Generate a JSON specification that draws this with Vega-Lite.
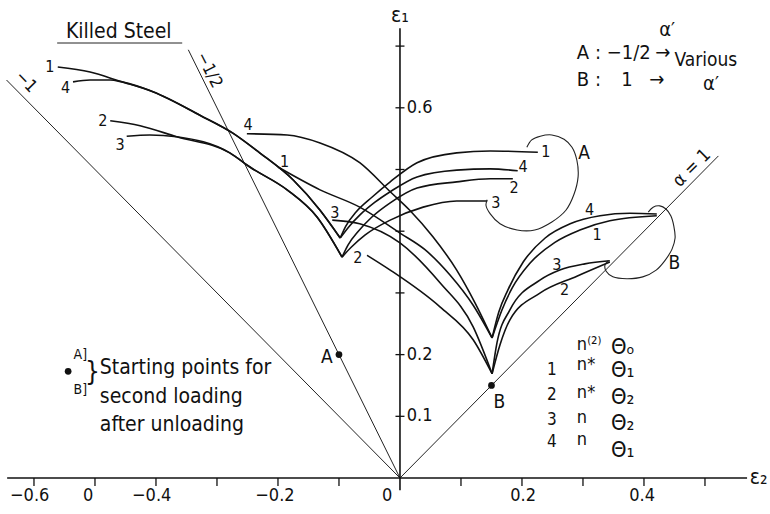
{
"$schema": "https://vega.github.io/schema/vega-lite/v6.json",
"width": 770, "height": 514,
"autosize": {"type": "fit", "contains": "padding"},
"padding": 0,
"background": "white",
"config": {"view": {"stroke": null}, "text": {"font": "DejaVu Sans Condensed, Liberation Sans Narrow, DejaVu Sans", "color": "#111", "baseline": "middle"}},
"datasets": {
"axes": [
{"id":"x","i":0,"x":-0.644,"y":0},{"id":"x","i":1,"x":0.569,"y":0},
{"id":"y","i":0,"x":0,"y":-0.02},{"id":"y","i":1,"x":0,"y":0.729}
],
"refl": [
{"id":"m1","i":0,"x":0,"y":0},{"id":"m1","i":1,"x":-0.645,"y":0.645},
{"id":"mh","i":0,"x":0,"y":0},{"id":"mh","i":1,"x":-0.347,"y":0.694},
{"id":"p1","i":0,"x":0,"y":0},{"id":"p1","i":1,"x":0.522,"y":0.522},
{"id":"ul","i":0,"x":-0.562,"y":0.705},{"id":"ul","i":1,"x":-0.357,"y":0.705}
],
"xticks": [{"x":-0.6,"y":0},{"x":-0.5,"y":0},{"x":-0.4,"y":0},{"x":-0.3,"y":0},{"x":-0.2,"y":0},{"x":-0.1,"y":0},{"x":0.1,"y":0},{"x":0.2,"y":0},{"x":0.3,"y":0},{"x":0.4,"y":0},{"x":0.5,"y":0}],
"yticks": [{"x":0,"y":0.1},{"x":0,"y":0.2},{"x":0,"y":0.3},{"x":0,"y":0.4},{"x":0,"y":0.5},{"x":0,"y":0.6},{"x":0,"y":0.7}],
"curves": [
{"id":"A1L","i":0,"x":-0.561,"y":0.666},{"id":"A1L","i":1,"x":-0.508,"y":0.658},{"id":"A1L","i":2,"x":-0.459,"y":0.643},{"id":"A1L","i":3,"x":-0.405,"y":0.626},{"id":"A1L","i":4,"x":-0.328,"y":0.588},{"id":"A1L","i":5,"x":-0.274,"y":0.559},{"id":"A1L","i":6,"x":-0.230,"y":0.527},{"id":"A1L","i":7,"x":-0.175,"y":0.483},{"id":"A1L","i":8,"x":-0.131,"y":0.434},{"id":"A1L","i":9,"x":-0.098,"y":0.389},
{"id":"A4L","i":0,"x":-0.536,"y":0.642},{"id":"A4L","i":1,"x":-0.508,"y":0.645},{"id":"A4L","i":2,"x":-0.475,"y":0.645},{"id":"A4L","i":3,"x":-0.456,"y":0.642},{"id":"A4L","i":4,"x":-0.405,"y":0.626},{"id":"A4L","i":5,"x":-0.328,"y":0.588},{"id":"A4L","i":6,"x":-0.274,"y":0.559},{"id":"A4L","i":7,"x":-0.230,"y":0.527},{"id":"A4L","i":8,"x":-0.175,"y":0.483},{"id":"A4L","i":9,"x":-0.131,"y":0.434},{"id":"A4L","i":10,"x":-0.098,"y":0.389},
{"id":"A2L","i":0,"x":-0.475,"y":0.579},{"id":"A2L","i":1,"x":-0.426,"y":0.571},{"id":"A2L","i":2,"x":-0.366,"y":0.553},{"id":"A2L","i":3,"x":-0.279,"y":0.527},{"id":"A2L","i":4,"x":-0.246,"y":0.504},{"id":"A2L","i":5,"x":-0.185,"y":0.467},{"id":"A2L","i":6,"x":-0.136,"y":0.423},{"id":"A2L","i":7,"x":-0.095,"y":0.358},
{"id":"A3L","i":0,"x":-0.448,"y":0.554},{"id":"A3L","i":1,"x":-0.410,"y":0.556},{"id":"A3L","i":2,"x":-0.366,"y":0.553},{"id":"A3L","i":3,"x":-0.279,"y":0.527},{"id":"A3L","i":4,"x":-0.246,"y":0.504},{"id":"A3L","i":5,"x":-0.185,"y":0.467},{"id":"A3L","i":6,"x":-0.136,"y":0.423},{"id":"A3L","i":7,"x":-0.095,"y":0.358},
{"id":"A1R","i":0,"x":-0.098,"y":0.389},{"id":"A1R","i":1,"x":-0.089,"y":0.408},{"id":"A1R","i":2,"x":-0.072,"y":0.431},{"id":"A1R","i":3,"x":-0.046,"y":0.455},{"id":"A1R","i":4,"x":-0.016,"y":0.480},{"id":"A1R","i":5,"x":0.028,"y":0.511},{"id":"A1R","i":6,"x":0.093,"y":0.527},{"id":"A1R","i":7,"x":0.148,"y":0.530},{"id":"A1R","i":8,"x":0.226,"y":0.528},
{"id":"A4R","i":0,"x":-0.098,"y":0.389},{"id":"A4R","i":1,"x":-0.084,"y":0.407},{"id":"A4R","i":2,"x":-0.066,"y":0.426},{"id":"A4R","i":3,"x":-0.041,"y":0.447},{"id":"A4R","i":4,"x":-0.016,"y":0.464},{"id":"A4R","i":5,"x":0.028,"y":0.488},{"id":"A4R","i":6,"x":0.093,"y":0.499},{"id":"A4R","i":7,"x":0.148,"y":0.501},{"id":"A4R","i":8,"x":0.193,"y":0.498},
{"id":"A2R","i":0,"x":-0.095,"y":0.358},{"id":"A2R","i":1,"x":-0.085,"y":0.378},{"id":"A2R","i":2,"x":-0.069,"y":0.399},{"id":"A2R","i":3,"x":-0.046,"y":0.423},{"id":"A2R","i":4,"x":-0.016,"y":0.446},{"id":"A2R","i":5,"x":0.028,"y":0.470},{"id":"A2R","i":6,"x":0.093,"y":0.480},{"id":"A2R","i":7,"x":0.148,"y":0.485},{"id":"A2R","i":8,"x":0.185,"y":0.485},
{"id":"A3R","i":0,"x":-0.095,"y":0.358},{"id":"A3R","i":1,"x":-0.080,"y":0.374},{"id":"A3R","i":2,"x":-0.057,"y":0.394},{"id":"A3R","i":3,"x":-0.016,"y":0.418},{"id":"A3R","i":4,"x":0.038,"y":0.439},{"id":"A3R","i":5,"x":0.093,"y":0.449},{"id":"A3R","i":6,"x":0.143,"y":0.449},
{"id":"B4L","i":0,"x":-0.251,"y":0.558},{"id":"B4L","i":1,"x":-0.185,"y":0.556},{"id":"B4L","i":2,"x":-0.131,"y":0.543},{"id":"B4L","i":3,"x":-0.066,"y":0.511},{"id":"B4L","i":4,"x":-0.016,"y":0.464},{"id":"B4L","i":5,"x":0.016,"y":0.434},{"id":"B4L","i":6,"x":0.054,"y":0.391},{"id":"B4L","i":7,"x":0.093,"y":0.337},{"id":"B4L","i":8,"x":0.123,"y":0.284},{"id":"B4L","i":9,"x":0.151,"y":0.227},
{"id":"B1L","i":0,"x":-0.200,"y":0.504},{"id":"B1L","i":1,"x":-0.131,"y":0.467},{"id":"B1L","i":2,"x":-0.066,"y":0.439},{"id":"B1L","i":3,"x":0.0,"y":0.397},{"id":"B1L","i":4,"x":0.041,"y":0.370},{"id":"B1L","i":5,"x":0.082,"y":0.329},{"id":"B1L","i":6,"x":0.120,"y":0.280},{"id":"B1L","i":7,"x":0.151,"y":0.227},
{"id":"B3L","i":0,"x":-0.111,"y":0.418},{"id":"B3L","i":1,"x":-0.066,"y":0.412},{"id":"B3L","i":2,"x":0.0,"y":0.381},{"id":"B3L","i":3,"x":0.066,"y":0.316},{"id":"B3L","i":4,"x":0.120,"y":0.245},{"id":"B3L","i":5,"x":0.151,"y":0.169},
{"id":"B2L","i":0,"x":-0.054,"y":0.361},{"id":"B2L","i":1,"x":-0.016,"y":0.337},{"id":"B2L","i":2,"x":0.066,"y":0.277},{"id":"B2L","i":3,"x":0.120,"y":0.224},{"id":"B2L","i":4,"x":0.151,"y":0.169},
{"id":"B4R","i":0,"x":0.151,"y":0.227},{"id":"B4R","i":1,"x":0.162,"y":0.269},{"id":"B4R","i":2,"x":0.177,"y":0.305},{"id":"B4R","i":3,"x":0.202,"y":0.350},{"id":"B4R","i":4,"x":0.238,"y":0.389},{"id":"B4R","i":5,"x":0.279,"y":0.412},{"id":"B4R","i":6,"x":0.328,"y":0.425},{"id":"B4R","i":7,"x":0.377,"y":0.429},{"id":"B4R","i":8,"x":0.421,"y":0.428},
{"id":"B1R","i":0,"x":0.151,"y":0.227},{"id":"B1R","i":1,"x":0.167,"y":0.272},{"id":"B1R","i":2,"x":0.184,"y":0.308},{"id":"B1R","i":3,"x":0.213,"y":0.348},{"id":"B1R","i":4,"x":0.254,"y":0.382},{"id":"B1R","i":5,"x":0.295,"y":0.402},{"id":"B1R","i":6,"x":0.344,"y":0.417},{"id":"B1R","i":7,"x":0.421,"y":0.425},
{"id":"B3R","i":0,"x":0.151,"y":0.169},{"id":"B3R","i":1,"x":0.159,"y":0.219},{"id":"B3R","i":2,"x":0.180,"y":0.272},{"id":"B3R","i":3,"x":0.230,"y":0.321},{"id":"B3R","i":4,"x":0.262,"y":0.337},{"id":"B3R","i":5,"x":0.303,"y":0.347},{"id":"B3R","i":6,"x":0.344,"y":0.352},
{"id":"B2R","i":0,"x":0.151,"y":0.169},{"id":"B2R","i":1,"x":0.164,"y":0.216},{"id":"B2R","i":2,"x":0.180,"y":0.256},{"id":"B2R","i":3,"x":0.230,"y":0.300},{"id":"B2R","i":4,"x":0.290,"y":0.327},{"id":"B2R","i":5,"x":0.344,"y":0.350}
],
"loops": [
{"id":"LA","i":0,"x":0.208,"y":0.536},{"id":"LA","i":1,"x":0.216,"y":0.548},{"id":"LA","i":2,"x":0.230,"y":0.554},{"id":"LA","i":3,"x":0.249,"y":0.556},{"id":"LA","i":4,"x":0.269,"y":0.549},{"id":"LA","i":5,"x":0.282,"y":0.536},{"id":"LA","i":6,"x":0.290,"y":0.515},{"id":"LA","i":7,"x":0.292,"y":0.488},{"id":"LA","i":8,"x":0.285,"y":0.459},{"id":"LA","i":9,"x":0.272,"y":0.434},{"id":"LA","i":10,"x":0.249,"y":0.415},{"id":"LA","i":11,"x":0.221,"y":0.402},{"id":"LA","i":12,"x":0.192,"y":0.402},{"id":"LA","i":13,"x":0.164,"y":0.412},{"id":"LA","i":14,"x":0.148,"y":0.428},{"id":"LA","i":15,"x":0.141,"y":0.442},{"id":"LA","i":16,"x":0.143,"y":0.451},
{"id":"LB","i":0,"x":0.407,"y":0.431},{"id":"LB","i":1,"x":0.415,"y":0.439},{"id":"LB","i":2,"x":0.426,"y":0.441},{"id":"LB","i":3,"x":0.436,"y":0.436},{"id":"LB","i":4,"x":0.444,"y":0.425},{"id":"LB","i":5,"x":0.449,"y":0.408},{"id":"LB","i":6,"x":0.451,"y":0.389},{"id":"LB","i":7,"x":0.446,"y":0.371},{"id":"LB","i":8,"x":0.434,"y":0.352},{"id":"LB","i":9,"x":0.420,"y":0.337},{"id":"LB","i":10,"x":0.398,"y":0.326},{"id":"LB","i":11,"x":0.372,"y":0.323},{"id":"LB","i":12,"x":0.349,"y":0.326},{"id":"LB","i":13,"x":0.338,"y":0.335},{"id":"LB","i":14,"x":0.336,"y":0.345},{"id":"LB","i":15,"x":0.341,"y":0.352}
],
"dots": [{"x":-0.1,"y":0.2},{"x":0.15,"y":0.15},{"x":-0.544,"y":0.173}],
"labels": [
{"g":"c16","t":"1","x":-0.574,"y":0.666},{"g":"c16","t":"4","x":-0.548,"y":0.632},{"g":"c16","t":"2","x":-0.487,"y":0.579},{"g":"c16","t":"3","x":-0.459,"y":0.540},
{"g":"c16","t":"4","x":-0.249,"y":0.572},{"g":"c16","t":"1","x":-0.189,"y":0.512},{"g":"c16","t":"3","x":-0.107,"y":0.429},{"g":"c16","t":"2","x":-0.069,"y":0.357},
{"g":"c16","t":"1","x":0.239,"y":0.528},{"g":"c16","t":"4","x":0.202,"y":0.504},{"g":"c16","t":"2","x":0.187,"y":0.470},{"g":"c16","t":"3","x":0.157,"y":0.446},
{"g":"c16","t":"4","x":0.311,"y":0.434},{"g":"c16","t":"1","x":0.323,"y":0.394},{"g":"c16","t":"3","x":0.257,"y":0.345},{"g":"c16","t":"2","x":0.270,"y":0.305},
{"g":"c19","t":"A","x":0.302,"y":0.527},{"g":"c19","t":"B","x":0.450,"y":0.348},{"g":"c19","t":"A","x":-0.120,"y":0.196},{"g":"c19","t":"B","x":0.163,"y":0.124},
{"g":"k","t":"Killed  Steel","x":-0.461,"y":0.723},
{"g":"c20","t":"α′","x":0.438,"y":0.726},{"g":"c20","t":"α′","x":0.510,"y":0.638},{"g":"c20","t":"1","x":0.372,"y":0.645},{"g":"c20","t":"→","x":0.421,"y":0.645},{"g":"c20","t":"→","x":0.431,"y":0.689},
{"g":"l20","t":"A : −1/2","x":0.290,"y":0.689},{"g":"l19","t":"Various","x":0.450,"y":0.678},{"g":"l20","t":"B :","x":0.290,"y":0.645},
{"g":"l21","t":"Starting points for","x":-0.492,"y":0.178},{"g":"l21","t":"second loading","x":-0.492,"y":0.131},{"g":"l21","t":"after unloading","x":-0.492,"y":0.086},
{"g":"c14","t":"A]","x":-0.524,"y":0.199},{"g":"c14","t":"B]","x":-0.524,"y":0.143},
{"g":"brace","t":"}","x":-0.504,"y":0.172},
{"g":"c17","t":"1","x":0.249,"y":0.175},{"g":"c17","t":"2","x":0.249,"y":0.135},{"g":"c17","t":"3","x":0.249,"y":0.094},{"g":"c17","t":"4","x":0.249,"y":0.058},
{"g":"l18","t":"n⁽²⁾","x":0.290,"y":0.216},{"g":"l18","t":"n*","x":0.290,"y":0.183},{"g":"l18","t":"n*","x":0.290,"y":0.138},{"g":"l18","t":"n","x":0.290,"y":0.097},{"g":"l18","t":"n","x":0.290,"y":0.062},
{"g":"l22","t":"Θₒ","x":0.346,"y":0.212},{"g":"l22","t":"Θ₁","x":0.346,"y":0.175},{"g":"l22","t":"Θ₂","x":0.346,"y":0.131},{"g":"l22","t":"Θ₂","x":0.346,"y":0.089},{"g":"l22","t":"Θ₁","x":0.346,"y":0.045},
{"g":"c18","t":"−0.6","x":-0.607,"y":-0.029},{"g":"c18","t":"0","x":-0.511,"y":-0.029},{"g":"c18","t":"−0.4","x":-0.407,"y":-0.029},{"g":"c18","t":"−0.2","x":-0.205,"y":-0.029},{"g":"c18","t":"0","x":-0.021,"y":-0.029},{"g":"c18","t":"0.2","x":0.202,"y":-0.029},{"g":"c18","t":"0.4","x":0.397,"y":-0.029},
{"g":"l18","t":"0.6","x":0.011,"y":0.6},{"g":"l18","t":"0.2","x":0.011,"y":0.2},{"g":"l18","t":"0.1","x":0.011,"y":0.1},
{"g":"ax","t":"ε₁","x":0.0,"y":0.748},{"g":"ax","t":"ε₂","x":0.588,"y":0.0},
{"g":"r45","t":"−1","x":-0.613,"y":0.642},{"g":"r63","t":"−1/2","x":-0.313,"y":0.661},{"g":"rm45","t":"α = 1","x":0.479,"y":0.502}
]
},
"encoding": {
"x": {"field": "x", "type": "quantitative", "scale": {"domain": [-0.6557, 0.6066], "nice": false, "zero": false}, "axis": null},
"y": {"field": "y", "type": "quantitative", "scale": {"domain": [-0.0583, 0.7747], "nice": false, "zero": false}, "axis": null}
},
"layer": [
{"data": {"name": "refl"}, "mark": {"type": "line", "color": "#222", "strokeWidth": 1}, "encoding": {"detail": {"field": "id"}, "order": {"field": "i"}}},
{"data": {"name": "axes"}, "mark": {"type": "line", "color": "#111", "strokeWidth": 1.6}, "encoding": {"detail": {"field": "id"}, "order": {"field": "i"}}},
{"data": {"name": "xticks"}, "mark": {"type": "tick", "orient": "vertical", "color": "#111", "size": 8, "thickness": 1.3, "yOffset": 4, "opacity": 1}},
{"data": {"name": "yticks"}, "mark": {"type": "tick", "orient": "horizontal", "color": "#111", "size": 9, "thickness": 1.3, "opacity": 1}},
{"data": {"name": "curves"}, "mark": {"type": "line", "color": "#111", "strokeWidth": 1.6, "interpolate": "monotone"}, "encoding": {"detail": {"field": "id"}, "order": {"field": "i"}}},
{"data": {"name": "loops"}, "mark": {"type": "line", "color": "#222", "strokeWidth": 1.1, "interpolate": "catmull-rom"}, "encoding": {"detail": {"field": "id"}, "order": {"field": "i"}}},
{"data": {"name": "dots"}, "mark": {"type": "point", "filled": true, "color": "#111", "size": 45, "opacity": 1}},
{"data": {"name": "labels"}, "transform": [{"filter": "datum.g === 'c16'"}], "mark": {"type": "text", "fontSize": 16, "align": "center"}, "encoding": {"text": {"field": "t"}}},
{"data": {"name": "labels"}, "transform": [{"filter": "datum.g === 'c17'"}], "mark": {"type": "text", "fontSize": 17, "align": "center"}, "encoding": {"text": {"field": "t"}}},
{"data": {"name": "labels"}, "transform": [{"filter": "datum.g === 'c19'"}], "mark": {"type": "text", "fontSize": 19, "align": "center"}, "encoding": {"text": {"field": "t"}}},
{"data": {"name": "labels"}, "transform": [{"filter": "datum.g === 'k'"}], "mark": {"type": "text", "fontSize": 21, "align": "center"}, "encoding": {"text": {"field": "t"}}},
{"data": {"name": "labels"}, "transform": [{"filter": "datum.g === 'c20'"}], "mark": {"type": "text", "fontSize": 20, "align": "center"}, "encoding": {"text": {"field": "t"}}},
{"data": {"name": "labels"}, "transform": [{"filter": "datum.g === 'l20'"}], "mark": {"type": "text", "fontSize": 20, "align": "left"}, "encoding": {"text": {"field": "t"}}},
{"data": {"name": "labels"}, "transform": [{"filter": "datum.g === 'l19'"}], "mark": {"type": "text", "fontSize": 19, "align": "left"}, "encoding": {"text": {"field": "t"}}},
{"data": {"name": "labels"}, "transform": [{"filter": "datum.g === 'l21'"}], "mark": {"type": "text", "fontSize": 21, "align": "left"}, "encoding": {"text": {"field": "t"}}},
{"data": {"name": "labels"}, "transform": [{"filter": "datum.g === 'c14'"}], "mark": {"type": "text", "fontSize": 14, "align": "center"}, "encoding": {"text": {"field": "t"}}},
{"data": {"name": "labels"}, "transform": [{"filter": "datum.g === 'brace'"}], "mark": {"type": "text", "fontSize": 26, "align": "center"}, "encoding": {"text": {"field": "t"}}},
{"data": {"name": "labels"}, "transform": [{"filter": "datum.g === 'c18'"}], "mark": {"type": "text", "fontSize": 18, "align": "center"}, "encoding": {"text": {"field": "t"}}},
{"data": {"name": "labels"}, "transform": [{"filter": "datum.g === 'l18'"}], "mark": {"type": "text", "fontSize": 18, "align": "left"}, "encoding": {"text": {"field": "t"}}},
{"data": {"name": "labels"}, "transform": [{"filter": "datum.g === 'l22'"}], "mark": {"type": "text", "fontSize": 22, "align": "left"}, "encoding": {"text": {"field": "t"}}},
{"data": {"name": "labels"}, "transform": [{"filter": "datum.g === 'ax'"}], "mark": {"type": "text", "fontSize": 21, "align": "center"}, "encoding": {"text": {"field": "t"}}},
{"data": {"name": "labels"}, "transform": [{"filter": "datum.g === 'r45'"}], "mark": {"type": "text", "fontSize": 17, "align": "center", "angle": 45}, "encoding": {"text": {"field": "t"}}},
{"data": {"name": "labels"}, "transform": [{"filter": "datum.g === 'r63'"}], "mark": {"type": "text", "fontSize": 17, "align": "center", "angle": 63}, "encoding": {"text": {"field": "t"}}},
{"data": {"name": "labels"}, "transform": [{"filter": "datum.g === 'rm45'"}], "mark": {"type": "text", "fontSize": 18, "align": "center", "angle": -45}, "encoding": {"text": {"field": "t"}}}
]
}
